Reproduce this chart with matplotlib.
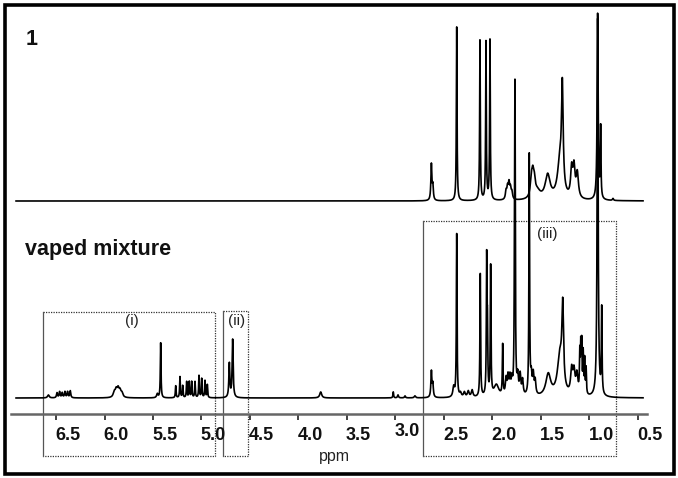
import numpy as np
import matplotlib
matplotlib.use("Agg")
import matplotlib.pyplot as plt
from matplotlib.patches import Rectangle

plt.rcParams['font.family'] = ['Liberation Sans', 'DejaVu Sans']

# ---------------- data (peak lists) ----------------
# compound 1 (top trace): ppm, height, half-width (ppm)
top_ppm = [2.630, 2.615, 2.369, 2.129, 2.067, 2.026,
           1.860, 1.845, 1.830, 1.815, 1.800,
           1.600, 1.585, 1.570, 1.540, 1.431,
           1.305, 1.280, 1.184, 1.160, 1.126,
           0.916, 0.885, 0.758]
top_height = [36, 14, 174, 160, 158, 160,
              8, 11, 15, 10, 7,
              16, 19, 14, 8, 24,
              36, 100, 28, 29, 25,
              186, 70, 2]
top_width = [0.006, 0.006, 0.004, 0.004, 0.004, 0.004,
             0.008, 0.008, 0.008, 0.008, 0.008,
             0.012, 0.012, 0.012, 0.04, 0.03,
             0.03, 0.010, 0.012, 0.012, 0.014,
             0.006, 0.004, 0.006]

# vaped mixture (bottom trace)
bot_ppm = [6.579, 6.490, 6.463, 6.436, 6.408, 6.381, 6.353,
           5.900, 5.880, 5.860, 5.840, 5.820,
           5.456, 5.421,
           5.266, 5.222, 5.194, 5.153, 5.126, 5.101, 5.067, 5.026, 4.998, 4.964, 4.940,
           4.713, 4.679,
           3.771, 3.023, 2.974, 2.902, 2.800,
           2.630, 2.615, 2.400, 2.369, 2.330, 2.290, 2.250, 2.210,
           2.126, 2.060, 2.052, 2.019, 1.960, 1.895,
           1.860, 1.840, 1.820, 1.800, 1.773, 1.768,
           1.740, 1.715, 1.690, 1.621, 1.600, 1.580, 1.560,
           1.425, 1.305, 1.276, 1.184, 1.160, 1.130,
           1.100, 1.090, 1.080, 1.065, 1.050, 1.035,
           0.916, 0.874]
bot_height = [3, 5, 6, 5, 6, 6, 7,
              5, 7, 8, 6, 4,
              4, 55,
              12, 21, 12, 16, 16, 16, 16, 22, 19, 17, 13,
              34, 58,
              6, 6, 3, 2, 2,
              26, 13, 10, 163, 4, 5, 6, 7,
              123, 133, 60, 129, 12, 50,
              16, 18, 17, 14, 90, 278,
              18, 20, 15, 240, 18, 20, 14,
              22, 40, 78, 24, 22, 20,
              38, 44, 48, 40, 34, 26,
              378, 85]
bot_width = [0.01, 0.006, 0.006, 0.006, 0.006, 0.006, 0.006,
             0.012, 0.012, 0.012, 0.012, 0.012,
             0.008, 0.004,
             0.004, 0.004, 0.004, 0.004, 0.004, 0.004, 0.004, 0.004, 0.004, 0.004, 0.004,
             0.006, 0.006,
             0.012, 0.004, 0.006, 0.006, 0.008,
             0.006, 0.006, 0.01, 0.004, 0.01, 0.01, 0.01, 0.01,
             0.004, 0.004, 0.004, 0.004, 0.03, 0.004,
             0.008, 0.008, 0.008, 0.008, 0.004, 0.004,
             0.008, 0.008, 0.008, 0.004, 0.008, 0.008, 0.008,
             0.03, 0.03, 0.010, 0.012, 0.012, 0.012,
             0.004, 0.004, 0.004, 0.004, 0.004, 0.004,
             0.006, 0.004]

top_offset = 197          # vertical offset of trace 1 above the mixture trace
ppm_start, ppm_end = 6.912, 0.448

tick_values = [6.5, 6.0, 5.5, 5.0, 4.5, 4.0, 3.5, 3.0, 2.5, 2.0, 1.5, 1.0, 0.5]
tick_labels = ["6.5", "6.0", "5.5", "5.0", "4.5", "4.0", "3.5", "3.0",
               "2.5", "2.0", "1.5", "1.0", "0.5"]

# highlighted regions: (label, ppm_left, ppm_right, top_level)
regions = [("(i)", 6.634, 4.861, 86),
           ("(ii)", 4.778, 4.521, 87),
           ("(iii)", 2.716, 0.727, 177)]
region_label_pos = [(5.716, 77), (4.634, 77), (1.438, 164)]
box_bottom = -58


def spectrum(x, ppm, h, w):
    y = np.zeros_like(x)
    for p, a, ww in zip(ppm, h, w):
        y += a / (1.0 + ((x - p) / ww) ** 2)
    return y


x = np.linspace(ppm_start, ppm_end, 20000)
y_top = spectrum(x, top_ppm, top_height, top_width) + top_offset
y_bot = spectrum(x, bot_ppm, bot_height, bot_width)

# ---------------- figure ----------------
W, H = 678, 478
fig = plt.figure(figsize=(W / 100, H / 100), dpi=100)
ax = fig.add_axes([11 / W, (H - 414) / H, 636 / W, 414 / H])
ax.set_xlim(6.964, 0.407)
ax.set_ylim(-16, 398)

ax.plot(x, y_top, color='black', lw=1.2, zorder=3)
ax.plot(x, y_bot, color='black', lw=1.2, zorder=4)

for s in ['top', 'right', 'left']:
    ax.spines[s].set_visible(False)
ax.spines['bottom'].set_color('#666666')
ax.spines['bottom'].set_linewidth(1.8)
ax.set_yticks([])
ax.set_xticks(tick_values)
ax.tick_params(axis='x', direction='out', length=4, width=1.2, color='#222222',
               labelbottom=False)

for v, lab in zip(tick_values, tick_labels):
    yy = -33 if lab == "3.0" else -37
    ax.text(v + 0.01, yy, lab, ha='left', va='center', fontsize=13,
            fontweight='bold', color='#111111', clip_on=False)

ax.text(3.634, -58, "ppm", ha='center', va='center', fontsize=11.5,
        color='#222222', clip_on=False)

dot = dict(color='#333333', lw=0.9, linestyle=(0, (1, 1)), clip_on=False, zorder=2)
for (lab, xl, xr, ytop), (lx, ly) in zip(regions, region_label_pos):
    ax.plot([xl, xr, xr, xl], [ytop, ytop, box_bottom, box_bottom], **dot)
    ax.plot([xl, xl], [box_bottom, ytop], color='#555555', lw=0.9, clip_on=False, zorder=2)
    ax.text(lx, ly, lab, ha='center', va='center', fontsize=11,
            color='#222222', clip_on=False)

fig.text(26 / W, 1 - 45 / H, "1", ha='left', va='baseline', fontsize=15.5,
         fontweight='bold', color='#111111')
fig.text(25 / W, 1 - 255 / H, "vaped mixture", ha='left', va='baseline',
         fontsize=15.5, fontweight='bold', color='#111111')

fig.patches.append(Rectangle((4.5 / W, 4.5 / H), 1 - 9 / W, 1 - 9 / H,
                             transform=fig.transFigure, fill=False,
                             edgecolor='black', lw=2.6))

fig.savefig("out.png", dpi=100)
